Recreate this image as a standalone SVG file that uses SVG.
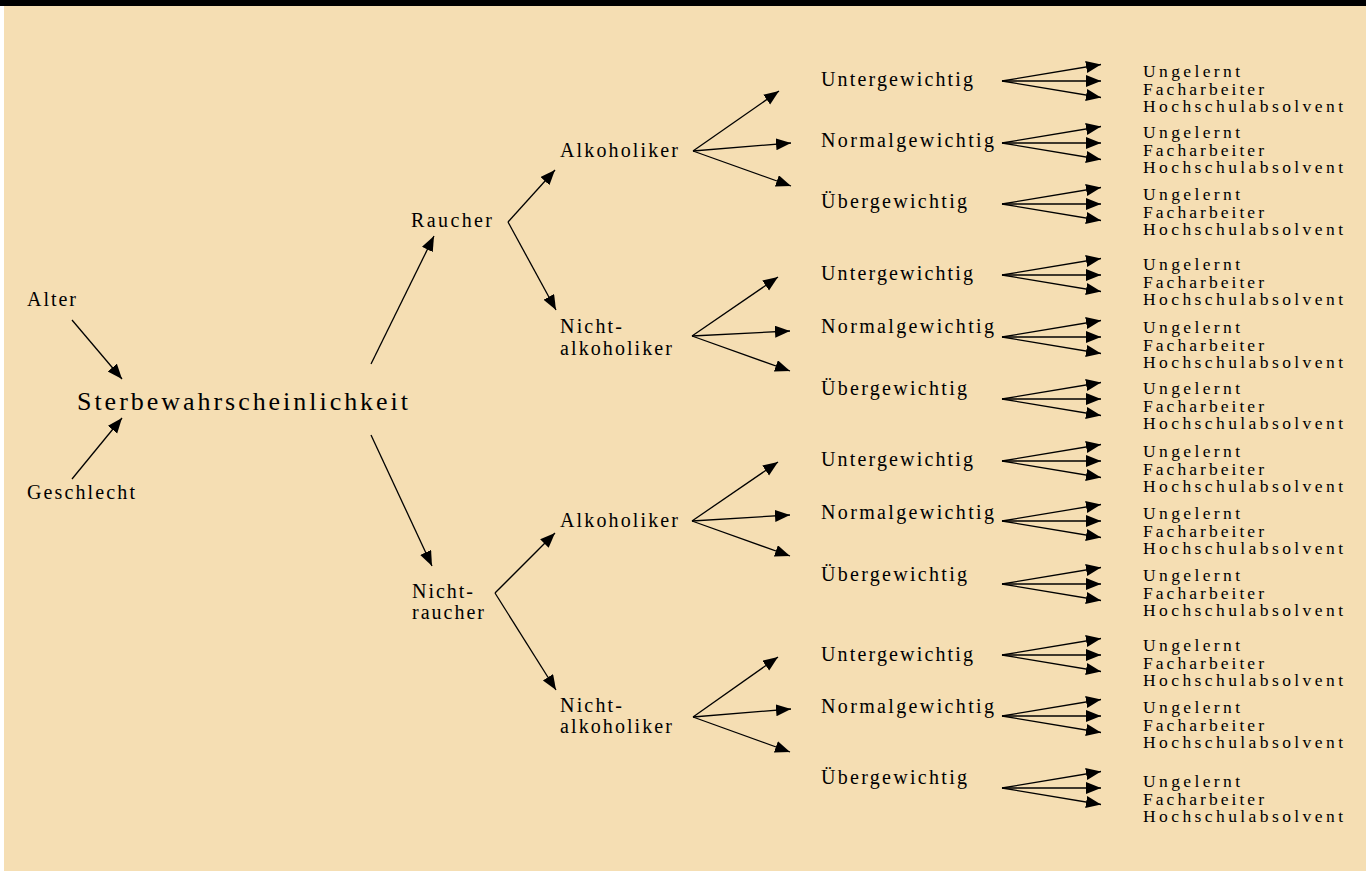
<svg xmlns="http://www.w3.org/2000/svg" width="1366" height="871" viewBox="0 0 1366 871">
<defs>
<marker id="ah" markerUnits="userSpaceOnUse" markerWidth="17" markerHeight="13" refX="15" refY="6" orient="auto">
<path d="M0,0 L15,6 L0,12 z" fill="#000"/>
</marker>
<style>
text{font-family:"Liberation Serif","Times New Roman",serif;fill:#000;font-size:20px}
.big{font-size:26px}
.s text{font-size:17.5px}
.c line{stroke:#000;stroke-width:1.3;marker-end:url(#ah)}
</style>
</defs>
<rect x="0" y="0" width="1366" height="871" fill="#fff"/>
<rect x="4" y="6" width="1362" height="865" fill="#F5DEB3"/>
<rect x="0" y="0" width="1366" height="6" fill="#000"/>

<g id="connectors" class="c">
<line x1="72" y1="320" x2="122" y2="379"/>
<line x1="72" y1="479" x2="122" y2="418"/>
<line x1="371" y1="364" x2="434" y2="236"/>
<line x1="371" y1="435" x2="432" y2="566"/>
<line x1="508" y1="222" x2="555" y2="170"/>
<line x1="508" y1="222" x2="556" y2="310"/>
<line x1="495" y1="593" x2="555" y2="533"/>
<line x1="495" y1="593" x2="556" y2="690"/>
<line x1="693" y1="151" x2="779" y2="91"/>
<line x1="693" y1="151" x2="791" y2="143"/>
<line x1="693" y1="151" x2="791" y2="186"/>
<line x1="692" y1="336" x2="778" y2="277"/>
<line x1="692" y1="336" x2="790" y2="331"/>
<line x1="692" y1="336" x2="790" y2="371"/>
<line x1="692" y1="521" x2="778" y2="462"/>
<line x1="692" y1="521" x2="790" y2="515"/>
<line x1="692" y1="521" x2="790" y2="556"/>
<line x1="693" y1="717" x2="778" y2="657"/>
<line x1="693" y1="717" x2="791" y2="709"/>
<line x1="693" y1="717" x2="790" y2="752"/>
<line x1="1002" y1="81" x2="1101" y2="64.5"/><line x1="1002" y1="81" x2="1101" y2="81"/><line x1="1002" y1="81" x2="1101" y2="97.5"/>
<line x1="1002" y1="143" x2="1101" y2="126.5"/><line x1="1002" y1="143" x2="1101" y2="143"/><line x1="1002" y1="143" x2="1101" y2="159.5"/>
<line x1="1002" y1="204" x2="1101" y2="187.5"/><line x1="1002" y1="204" x2="1101" y2="204"/><line x1="1002" y1="204" x2="1101" y2="220.5"/>
<line x1="1002" y1="275" x2="1101" y2="258.5"/><line x1="1002" y1="275" x2="1101" y2="275"/><line x1="1002" y1="275" x2="1101" y2="291.5"/>
<line x1="1002" y1="337" x2="1101" y2="320.5"/><line x1="1002" y1="337" x2="1101" y2="337"/><line x1="1002" y1="337" x2="1101" y2="353.5"/>
<line x1="1002" y1="399" x2="1101" y2="382.5"/><line x1="1002" y1="399" x2="1101" y2="399"/><line x1="1002" y1="399" x2="1101" y2="415.5"/>
<line x1="1002" y1="461" x2="1101" y2="444.5"/><line x1="1002" y1="461" x2="1101" y2="461"/><line x1="1002" y1="461" x2="1101" y2="477.5"/>
<line x1="1002" y1="521" x2="1101" y2="504.5"/><line x1="1002" y1="521" x2="1101" y2="521"/><line x1="1002" y1="521" x2="1101" y2="537.5"/>
<line x1="1002" y1="584" x2="1101" y2="567.5"/><line x1="1002" y1="584" x2="1101" y2="584"/><line x1="1002" y1="584" x2="1101" y2="600.5"/>
<line x1="1002" y1="655" x2="1101" y2="638.5"/><line x1="1002" y1="655" x2="1101" y2="655"/><line x1="1002" y1="655" x2="1101" y2="671.5"/>
<line x1="1002" y1="716" x2="1101" y2="699.5"/><line x1="1002" y1="716" x2="1101" y2="716"/><line x1="1002" y1="716" x2="1101" y2="732.5"/>
<line x1="1002" y1="788" x2="1101" y2="771.5"/><line x1="1002" y1="788" x2="1101" y2="788"/><line x1="1002" y1="788" x2="1101" y2="804.5"/>
</g>

<g id="alter"><text x="27" y="306" textLength="49" lengthAdjust="spacing">Alter</text></g>
<g id="geschlecht"><text x="27" y="499" textLength="108" lengthAdjust="spacing">Geschlecht</text></g>
<g id="sterbe"><text class="big" x="77" y="410" textLength="331" lengthAdjust="spacing">Sterbewahrscheinlichkeit</text></g>
<g id="raucher"><text x="411" y="227" textLength="81" lengthAdjust="spacing">Raucher</text></g>
<g id="nichtraucher"><text x="412" y="598" textLength="61" lengthAdjust="spacing">Nicht-</text><text x="412" y="619" textLength="72" lengthAdjust="spacing">raucher</text></g>

<g id="r-alk"><text x="560" y="157" textLength="118" lengthAdjust="spacing">Alkoholiker</text></g>
<g id="r-nalk"><text x="560" y="333" textLength="62" lengthAdjust="spacing">Nicht-</text><text x="560" y="355" textLength="112" lengthAdjust="spacing">alkoholiker</text></g>
<g id="nr-alk"><text x="560" y="527" textLength="118" lengthAdjust="spacing">Alkoholiker</text></g>
<g id="nr-nalk"><text x="560" y="712" textLength="62" lengthAdjust="spacing">Nicht-</text><text x="560" y="733" textLength="112" lengthAdjust="spacing">alkoholiker</text></g>

<g id="w1u"><text x="821" y="86" textLength="152" lengthAdjust="spacing">Untergewichtig</text></g>
<g id="w1n"><text x="821" y="147" textLength="173" lengthAdjust="spacing">Normalgewichtig</text></g>
<g id="w1o"><text x="821" y="208" textLength="146" lengthAdjust="spacing">Übergewichtig</text></g>
<g id="w2u"><text x="821" y="280" textLength="152" lengthAdjust="spacing">Untergewichtig</text></g>
<g id="w2n"><text x="821" y="333" textLength="173" lengthAdjust="spacing">Normalgewichtig</text></g>
<g id="w2o"><text x="821" y="395" textLength="146" lengthAdjust="spacing">Übergewichtig</text></g>
<g id="w3u"><text x="821" y="466" textLength="152" lengthAdjust="spacing">Untergewichtig</text></g>
<g id="w3n"><text x="821" y="519" textLength="173" lengthAdjust="spacing">Normalgewichtig</text></g>
<g id="w3o"><text x="821" y="581" textLength="146" lengthAdjust="spacing">Übergewichtig</text></g>
<g id="w4u"><text x="821" y="661" textLength="152" lengthAdjust="spacing">Untergewichtig</text></g>
<g id="w4n"><text x="821" y="713" textLength="173" lengthAdjust="spacing">Normalgewichtig</text></g>
<g id="w4o"><text x="821" y="784" textLength="146" lengthAdjust="spacing">Übergewichtig</text></g>

<g id="e1u" class="s"><text x="1143" y="77" textLength="97" lengthAdjust="spacing">Ungelernt</text><text x="1143" y="94.5" textLength="121" lengthAdjust="spacing">Facharbeiter</text><text x="1143" y="112" textLength="200" lengthAdjust="spacing">Hochschulabsolvent</text></g>
<g id="e1n" class="s"><text x="1143" y="138" textLength="97" lengthAdjust="spacing">Ungelernt</text><text x="1143" y="155.5" textLength="121" lengthAdjust="spacing">Facharbeiter</text><text x="1143" y="173" textLength="200" lengthAdjust="spacing">Hochschulabsolvent</text></g>
<g id="e1o" class="s"><text x="1143" y="200" textLength="97" lengthAdjust="spacing">Ungelernt</text><text x="1143" y="217.5" textLength="121" lengthAdjust="spacing">Facharbeiter</text><text x="1143" y="235" textLength="200" lengthAdjust="spacing">Hochschulabsolvent</text></g>
<g id="e2u" class="s"><text x="1143" y="270" textLength="97" lengthAdjust="spacing">Ungelernt</text><text x="1143" y="287.5" textLength="121" lengthAdjust="spacing">Facharbeiter</text><text x="1143" y="305" textLength="200" lengthAdjust="spacing">Hochschulabsolvent</text></g>
<g id="e2n" class="s"><text x="1143" y="333" textLength="97" lengthAdjust="spacing">Ungelernt</text><text x="1143" y="350.5" textLength="121" lengthAdjust="spacing">Facharbeiter</text><text x="1143" y="368" textLength="200" lengthAdjust="spacing">Hochschulabsolvent</text></g>
<g id="e2o" class="s"><text x="1143" y="394" textLength="97" lengthAdjust="spacing">Ungelernt</text><text x="1143" y="411.5" textLength="121" lengthAdjust="spacing">Facharbeiter</text><text x="1143" y="429" textLength="200" lengthAdjust="spacing">Hochschulabsolvent</text></g>
<g id="e3u" class="s"><text x="1143" y="457" textLength="97" lengthAdjust="spacing">Ungelernt</text><text x="1143" y="474.5" textLength="121" lengthAdjust="spacing">Facharbeiter</text><text x="1143" y="492" textLength="200" lengthAdjust="spacing">Hochschulabsolvent</text></g>
<g id="e3n" class="s"><text x="1143" y="519" textLength="97" lengthAdjust="spacing">Ungelernt</text><text x="1143" y="536.5" textLength="121" lengthAdjust="spacing">Facharbeiter</text><text x="1143" y="554" textLength="200" lengthAdjust="spacing">Hochschulabsolvent</text></g>
<g id="e3o" class="s"><text x="1143" y="581" textLength="97" lengthAdjust="spacing">Ungelernt</text><text x="1143" y="598.5" textLength="121" lengthAdjust="spacing">Facharbeiter</text><text x="1143" y="616" textLength="200" lengthAdjust="spacing">Hochschulabsolvent</text></g>
<g id="e4u" class="s"><text x="1143" y="651" textLength="97" lengthAdjust="spacing">Ungelernt</text><text x="1143" y="668.5" textLength="121" lengthAdjust="spacing">Facharbeiter</text><text x="1143" y="686" textLength="200" lengthAdjust="spacing">Hochschulabsolvent</text></g>
<g id="e4n" class="s"><text x="1143" y="713" textLength="97" lengthAdjust="spacing">Ungelernt</text><text x="1143" y="730.5" textLength="121" lengthAdjust="spacing">Facharbeiter</text><text x="1143" y="748" textLength="200" lengthAdjust="spacing">Hochschulabsolvent</text></g>
<g id="e4o" class="s"><text x="1143" y="787" textLength="97" lengthAdjust="spacing">Ungelernt</text><text x="1143" y="804.5" textLength="121" lengthAdjust="spacing">Facharbeiter</text><text x="1143" y="822" textLength="200" lengthAdjust="spacing">Hochschulabsolvent</text></g>
</svg>
